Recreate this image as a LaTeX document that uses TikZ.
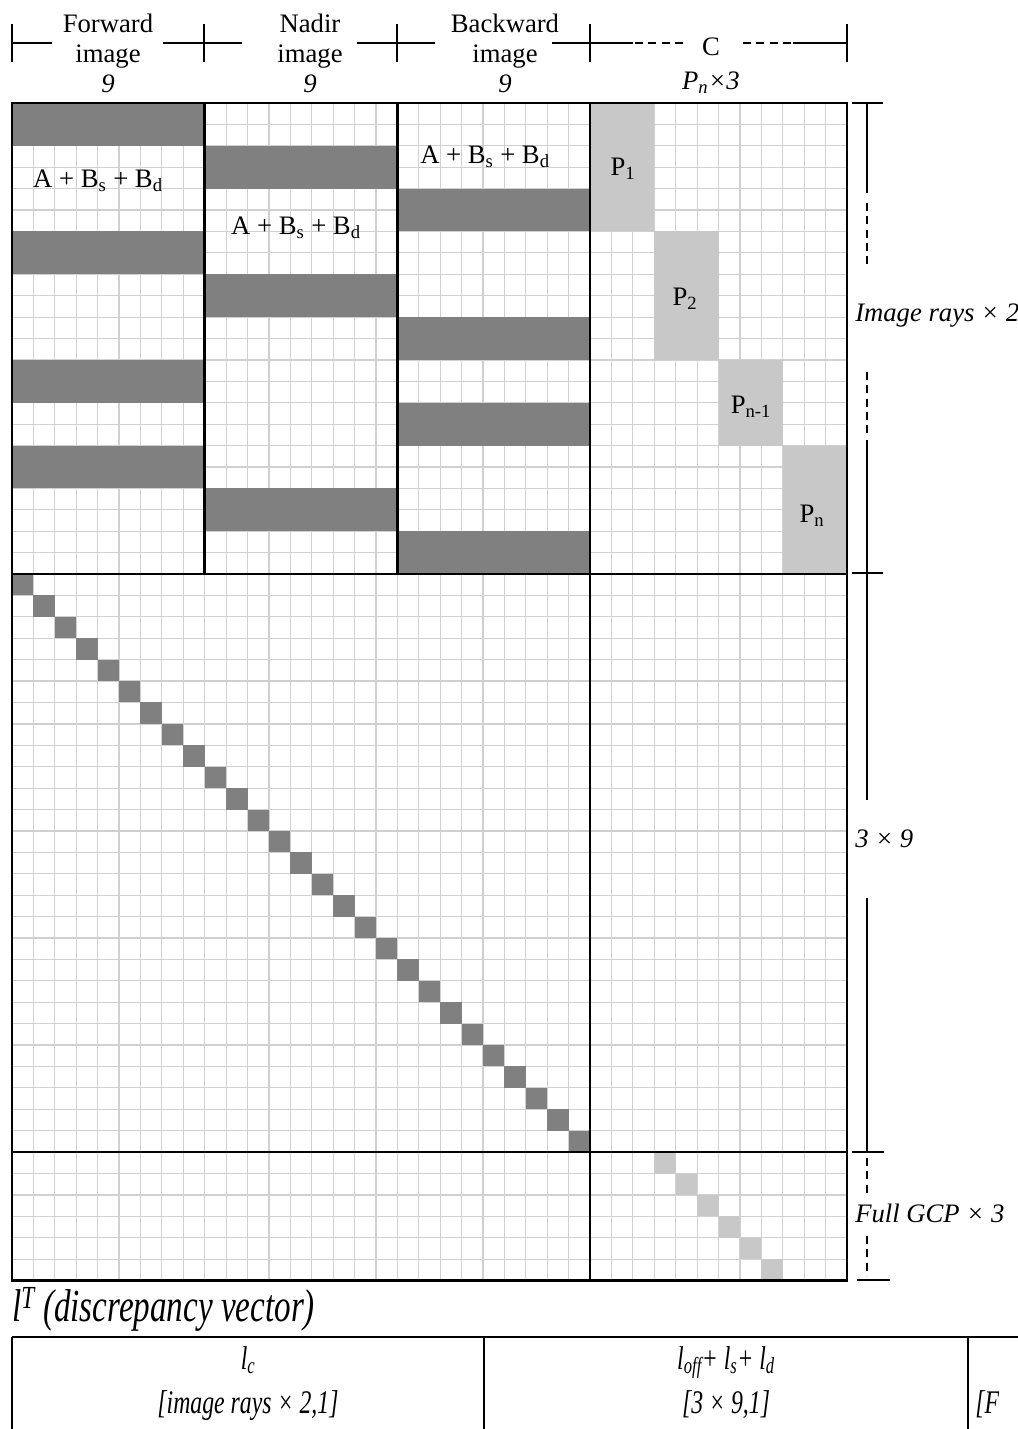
\documentclass[tikz,border=0pt]{standalone}
\usepackage{fontspec}
\setmainfont{Liberation Serif}
\usepackage{graphicx}
\definecolor{darkfill}{HTML}{808080}
\definecolor{lightfill}{HTML}{C8C8C8}
\definecolor{gridc}{HTML}{D0D0D0}
\tikzset{
  gridline/.style={draw=gridc, line width=0.9pt},
  thickline/.style={draw=black, line width=1.8pt},
  dimline/.style={draw=black, line width=1.1pt},
  dimdash/.style={draw=black, line width=1.1pt, dash pattern=on 6pt off 4pt},
  lbl/.style={inner sep=0pt, font=\fontsize{20}{24}\selectfont},
  ilbl/.style={inner sep=0pt, font=\fontsize{20}{24}\selectfont\itshape},
  tbl/.style={inner sep=0pt, font=\fontsize{24.75}{28}\selectfont\itshape},
}
\newcommand{\cnd}[1]{\scalebox{0.72}[1]{#1}}
\begin{document}
\begin{tikzpicture}[x=0.75pt,y=-0.75pt]
\useasboundingbox (0,0) rectangle (1018,1429);
\def\cw{21.41}
% ---- grid ----
\foreach \i in {1,...,38}
  \draw[gridline] ({12+\i*\cw},103) -- ({12+\i*\cw},{103+55*\cw});
\foreach \j in {1,...,54}
  \draw[gridline] (12,{103+\j*\cw}) -- ({12+39*\cw},{103+\j*\cw});
% ---- dark bands (image rays) ----
\foreach \r in {0,6,12,16}
  \fill[darkfill] (12,{103+\r*\cw}) rectangle ({12+9*\cw},{103+(\r+2)*\cw});
\foreach \r in {2,8,18}
  \fill[darkfill] ({12+9*\cw},{103+\r*\cw}) rectangle ({12+18*\cw},{103+(\r+2)*\cw});
\foreach \r in {4,10,14,20}
  \fill[darkfill] ({12+18*\cw},{103+\r*\cw}) rectangle ({12+27*\cw},{103+(\r+2)*\cw});
% ---- P blocks ----
\fill[lightfill] ({12+27*\cw},{103+0*\cw}) rectangle ({12+30*\cw},{103+6*\cw});
\fill[lightfill] ({12+30*\cw},{103+6*\cw}) rectangle ({12+33*\cw},{103+12*\cw});
\fill[lightfill] ({12+33*\cw},{103+12*\cw}) rectangle ({12+36*\cw},{103+16*\cw});
\fill[lightfill] ({12+36*\cw},{103+16*\cw}) rectangle ({12+39*\cw},{103+22*\cw});
% ---- diagonal 3x9 ----
\foreach \k in {0,...,26}
  \fill[darkfill] ({12+\k*\cw},{103+(22+\k)*\cw}) rectangle ({12+(\k+1)*\cw},{103+(23+\k)*\cw});
% ---- GCP diagonal ----
\foreach \k in {0,...,5}
  \fill[lightfill] ({12+(30+\k)*\cw},{103+(49+\k)*\cw}) rectangle ({12+(31+\k)*\cw},{103+(50+\k)*\cw});
% ---- thick partition lines ----
\draw[thickline] (12,103) rectangle ({12+39*\cw},{103+55*\cw});
\draw[thickline] ({12+9*\cw},103) -- ({12+9*\cw},{103+22*\cw});
\draw[thickline] ({12+18*\cw},103) -- ({12+18*\cw},{103+22*\cw});
\draw[thickline] ({12+27*\cw},103) -- ({12+27*\cw},{103+55*\cw});
\draw[thickline] (12,{103+22*\cw}) -- ({12+39*\cw},{103+22*\cw});
\draw[thickline] (12,{103+49*\cw}) -- ({12+39*\cw},{103+49*\cw});
% ---- cell labels ----
\node[lbl, anchor=base] (abf) at (98,187) {A + B\textsubscript{s} + B\textsubscript{d}};
\node[lbl, anchor=base] (abn) at (296,234) {A + B\textsubscript{s} + B\textsubscript{d}};
\node[lbl, anchor=base] (abb) at (485,163) {A + B\textsubscript{s} + B\textsubscript{d}};
\node[lbl, anchor=base] (p1) at (623,175) {P\textsubscript{1}};
\node[lbl, anchor=base] (p2) at (685,305) {P\textsubscript{2}};
\node[lbl, anchor=base] (pn1) at (751,413) {P\textsubscript{n-1}};
\node[lbl, anchor=base] (pn) at (812,522) {P\textsubscript{n}};
% ---- header dimension line ----
\foreach \x in {12,204,397,590,847}
  \draw[dimline] (\x,24) -- (\x,62);
\draw[dimline] (12,43) -- (52,43);
\draw[dimline] (163,43) -- (242,43);
\draw[dimline] (357,43) -- (435,43);
\draw[dimline] (552,43) -- (633,43);
\draw[dimdash] (635,43) -- (683,43);
\draw[dimdash] (743,43) -- (791,43);
\draw[dimline] (793,43) -- (847,43);
\node[lbl, anchor=base] (fw1) at (108,32) {Forward};
\node[lbl, anchor=base] (fw2) at (108,62) {image};
\node[ilbl, anchor=base] (fw3) at (108,92) {9};
\node[lbl, anchor=base] (nd1) at (310,32) {Nadir};
\node[lbl, anchor=base] (nd2) at (310,62) {image};
\node[ilbl, anchor=base] (nd3) at (310,92) {9};
\node[lbl, anchor=base] (bw1) at (505,32) {Backward};
\node[lbl, anchor=base] (bw2) at (505,62) {image};
\node[ilbl, anchor=base] (bw3) at (505,92) {9};
\node[lbl, anchor=base] (cc) at (711,55) {C};
\node[ilbl, anchor=base] (pn3) at (711,89) {P\textsubscript{n}×3};
% ---- right dimension line ----
\draw[dimline] (852,103) -- (883,103);
\draw[dimline] (867,103) -- (867,193);
\draw[dimdash] (867,203) -- (867,268);
\node[ilbl, anchor=base west] (rays) at (855,321) {Image rays × 2};
\draw[dimdash] (867,372) -- (867,434);
\draw[dimline] (867,440) -- (867,800);
\draw[dimline] (852,573) -- (883,573);
\node[ilbl, anchor=base west] (ninec) at (855,847) {3 × 9};
\draw[dimline] (867,898) -- (867,1152);
\draw[dimline] (852,1152) -- (884,1152);
\draw[dimdash] (867,1158) -- (867,1197);
\node[ilbl, anchor=base west] (gcp) at (855,1222) {Full GCP × 3};
\draw[dimdash] (867,1236) -- (867,1276);
\draw[dimline] (857,1280) -- (890,1280);
% ---- discrepancy vector ----
\node[inner sep=0pt, anchor=base west, font=\fontsize{34.5}{40}\selectfont\itshape] (title) at (12,1321)
  {\cnd{l\textsuperscript{T} (discrepancy vector)}};
\draw[thickline] (12,1337) -- (1018,1337);
\draw[thickline] (12,1337) -- (12,1429);
\draw[thickline] (484,1337) -- (484,1429);
\draw[thickline] (968,1337) -- (968,1429);
\node[tbl, anchor=base] (lc) at (248,1369) {\cnd{l\textsubscript{c}}};
\node[tbl, anchor=base] (lcdim) at (248,1413) {\cnd{[image rays × 2,1]}};
\node[tbl, anchor=base] (loff) at (726,1369) {\cnd{l\textsubscript{off}+ l\textsubscript{s}+ l\textsubscript{d}}};
\node[tbl, anchor=base] (loffdim) at (726,1413) {\cnd{[3 × 9,1]}};
\node[tbl, anchor=base west] (fdim) at (975,1413) {\cnd{[F}};
\end{tikzpicture}
\end{document}
